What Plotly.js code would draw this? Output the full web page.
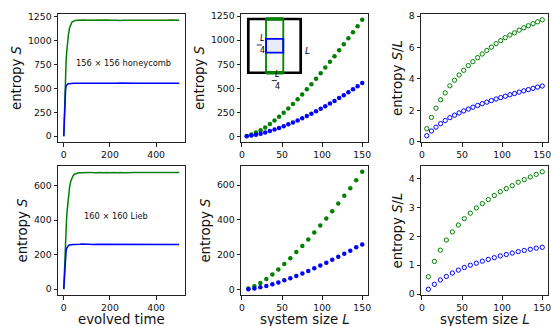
<!DOCTYPE html>
<html>
<head>
<meta charset="utf-8">
<script src="https://cdn.plot.ly/plotly-3.0.1.min.js"></script>
<style>html,body{margin:0;padding:0;background:#fff}#chart{width:551px;height:326px}</style>
</head>
<body>
<div id="chart"></div>
<script>
// ---- evolved time series (shared times) ----
var timeSteps = [0,2,4,6,8,10,12,15,20,25,30,35,40,45,50,
  60,70,80,90,100,110,120,130,140,150,160,170,180,190,200,
  210,220,230,240,250,260,270,280,290,300,310,320,330,340,350,
  360,370,380,390,400,410,420,430,440,450,460,470,480,490,500];

var honeyGreenT = [0,200,380,540,670,780,860,950,1060,1130,1170,1190,1200,1207,1210,
  1211,1213,1212,1214,1211, 1212,1213,1210,1212,1214, 1213,1211,1212,1213,1212,
  1214,1211,1212,1210,1213, 1212,1211,1213,1214,1212, 1211,1212,1213,1210,1212,
  1213,1211,1212,1214,1212, 1211,1213,1212,1210,1212, 1213,1211,1212,1213,1211];
var honeyBlueT = [0,180,330,430,490,520,532,541,547,550,552,553,553,554,553,
  554,553,555,554,553, 554,555,553,554,554, 553,554,555,554,553,
  554,553,554,555,554, 553,554,554,553,555, 554,553,554,554,555,
  553,554,553,555,554, 554,553,554,555,553, 554,554,553,555,554];
var liebGreenT = [0,90,170,240,300,360,405,460,540,590,625,645,657,665,669,
  673,675,676,677,675, 676,677,675,676,678, 676,675,677,676,675,
  677,676,675,677,676, 675,676,677,676,675, 677,676,676,675,677,
  676,675,677,676,676, 675,677,676,675,677, 676,676,675,677,676];
var liebBlueT = [0,60,115,160,195,220,235,246,253,256,258,258,259,259,260,
  259,260,261,260,259, 260,261,259,260,260, 261,260,259,260,261,
  260,259,260,261,260, 259,260,261,260,259, 260,260,261,259,260,
  261,260,259,260,261, 260,259,260,261,260, 259,261,260,260,259];

// ---- system-size scans ----
var honeyL = [6,11.8,17.5,23.3,29,34.8,40.6,46.3,52.1,57.8,63.6,69.4,75.1,80.9,86.6,92.4,98.2,103.9,109.7,115.4,121.2,127,132.7,138.5,144.2,150];
var honeyGreenS = [5,19,39,64,93,128,165,204,246,291,337,386,436,489,543,600,657,716,775,833,896,958,1020,1083,1146,1212];
var honeyBlueS  = [2,8,17,28,41,55,71,88,106,125,145,166,189,212,236,261,287,313,341,368,398,428,458,490,522,554];
var honeyGreenSL = [0.83,1.55,2.14,2.67,3.11,3.56,3.92,4.25,4.55,4.85,5.10,5.36,5.59,5.82,6.03,6.25,6.44,6.63,6.80,6.94,7.11,7.26,7.39,7.52,7.64,7.77];
var honeyBlueSL  = [0.38,0.68,0.93,1.15,1.35,1.53,1.69,1.83,1.96,2.08,2.20,2.31,2.42,2.52,2.62,2.72,2.81,2.90,2.99,3.07,3.16,3.24,3.32,3.40,3.48,3.55];

var liebL = [8,15.5,22.9,30.4,37.9,45.4,52.8,60.3,67.8,75.3,82.7,90.2,97.7,105.2,112.6,120.1,127.6,135.1,142.5,150];
var liebGreenS = [5,18,37,60,86,115,146,179,215,250,288,327,368,409,450,495,539,583,629,677];
var liebBlueS  = [1,5,12,20,29,40,52,64,77,91,106,121,137,153,170,188,205,223,242,259];
var liebGreenSL = [0.60,1.13,1.52,1.87,2.15,2.39,2.61,2.80,2.98,3.13,3.27,3.41,3.54,3.65,3.75,3.87,3.96,4.05,4.14,4.23];
var liebBlueSL  = [0.17,0.34,0.49,0.61,0.73,0.83,0.92,1.00,1.07,1.14,1.20,1.26,1.32,1.37,1.42,1.47,1.51,1.55,1.59,1.62];

var GREEN = '#008000', BLUE = '#0000ff';
var FONT = 'DejaVu Sans, sans-serif';

function line(x, y, c, ax) {
  return {x: x, y: y, type: 'scatter', mode: 'lines', line: {color: c, width: 1.5},
    xaxis: 'x' + ax, yaxis: 'y' + ax, hoverinfo: 'skip', showlegend: false};
}
function dots(x, y, c, ax) {
  return {x: x, y: y, type: 'scatter', mode: 'markers', marker: {color: c, size: 4.5, line: {width: 0}},
    xaxis: 'x' + ax, yaxis: 'y' + ax, showlegend: false};
}
function rings(x, y, c, ax) {
  return {x: x, y: y, type: 'scatter', mode: 'markers',
    marker: {symbol: 'circle-open', color: c, size: 4.3, line: {width: 1, color: c}},
    xaxis: 'x' + ax, yaxis: 'y' + ax, showlegend: false};
}

var traces = [
  line(timeSteps, honeyGreenT, GREEN, ''), line(timeSteps, honeyBlueT, BLUE, ''),
  dots(honeyL, honeyGreenS, GREEN, '2'), dots(honeyL, honeyBlueS, BLUE, '2'),
  rings(honeyL, honeyGreenSL, GREEN, '3'), rings(honeyL, honeyBlueSL, BLUE, '3'),
  line(timeSteps, liebGreenT, GREEN, '4'), line(timeSteps, liebBlueT, BLUE, '4'),
  dots(liebL, liebGreenS, GREEN, '5'), dots(liebL, liebBlueS, BLUE, '5'),
  rings(liebL, liebGreenSL, GREEN, '6'), rings(liebL, liebBlueSL, BLUE, '6')
];

// plot area: l=58, r=1, t=14, b=31  -> 492 x 281
var PW = 492, PH = 281;
function dx(a, b) { return [a / PW, b / PW]; }
function dy(a, b) { return [a / PH, b / PH]; }

function axis(d, range, tickvals, title, standoff, anchor) {
  var o = {domain: d, range: range, tickvals: tickvals, ticktext: tickvals.map(String),
    showgrid: false, zeroline: false, showline: true, mirror: true, linecolor: '#222', linewidth: 1,
    ticks: 'outside', ticklen: 3.5, tickwidth: 1, tickcolor: '#222', ticklabeloverflow: 'allow',
    tickfont: {family: FONT, size: 9.3, color: '#111'}, anchor: anchor, fixedrange: true};
  if (title) o.title = {text: title, font: {family: FONT, size: 13.3, color: '#111'}, standoff: standoff};
  return o;
}

var colL = dx(0, 127), colM = dx(183, 310), colR = dx(363, 490);
var rowT = dy(153, 281), rowB = dy(0, 129);
var xr = [-1.2, 157.2];

function xTitle(ax, text) {
  return {xref: ax + ' domain', yref: 'paper', x: 0.5, y: -24.3 / PH, yanchor: 'middle', text: text,
    showarrow: false, font: {family: FONT, size: 13.3, color: '#111'}, borderpad: 0};
}

var layout = {
  width: 551, height: 326, margin: {l: 58, r: 1, t: 14, b: 31},
  paper_bgcolor: '#fff', plot_bgcolor: '#fff', showlegend: false,
  xaxis:  axis(colL, [-25, 525], [0, 200, 400], null, 0, 'y'),
  yaxis:  axis(rowT, [-61, 1277], [0, 250, 500, 750, 1000, 1250], 'entropy <i>S</i>', 2.5, 'x'),
  xaxis2: axis(colM, xr, [0, 50, 100, 150], null, 0, 'y2'),
  yaxis2: axis(rowT, [-58.5, 1272.5], [0, 250, 500, 750, 1000, 1250], 'entropy <i>S</i>', 2.5, 'x2'),
  xaxis3: axis(colR, xr, [0, 50, 100, 150], null, 0, 'y3'),
  yaxis3: axis(rowT, [-0.02, 8.14], [0, 2, 4, 6, 8], 'entropy <i>S</i>/<i>L</i>', 2.5, 'x3'),
  xaxis4: axis(colL, [-25, 525], [0, 200, 400], null, 0, 'y4'),
  yaxis4: axis(rowB, [-34, 714], [0, 200, 400, 600], 'entropy <i>S</i>', 2.5, 'x4'),
  xaxis5: axis(colM, xr, [0, 50, 100, 150], null, 0, 'y5'),
  yaxis5: axis(rowB, [-32.4, 710.8], [0, 200, 400, 600], 'entropy <i>S</i>', 2.5, 'x5'),
  xaxis6: axis(colR, xr, [0, 50, 100, 150], null, 0, 'y6'),
  yaxis6: axis(rowB, [-0.03, 4.43], [0, 1, 2, 3, 4], 'entropy <i>S</i>/<i>L</i>', 2.5, 'x6'),
  shapes: [
    {type: 'rect', xref: 'x2 domain', yref: 'y2 domain', x0: 0.0575, x1: 0.47, y0: 0.541, y1: 0.961,
      line: {color: '#000', width: 2.7}, fillcolor: 'rgba(255,255,255,1)', layer: 'above'},
    {type: 'rect', xref: 'x2 domain', yref: 'y2 domain', x0: 0.197, x1: 0.333, y0: 0.541, y1: 0.961,
      line: {color: GREEN, width: 1.8}, fillcolor: 'rgba(0,128,0,0.035)', layer: 'above'},
    {type: 'line', xref: 'x2 domain', yref: 'y2 domain', x0: 0.197, x1: 0.333, y0: 0.541, y1: 0.541,
      line: {color: GREEN, width: 3.5}, layer: 'above'},
    {type: 'line', xref: 'x2 domain', yref: 'y2 domain', x0: 0.197, x1: 0.333, y0: 0.961, y1: 0.961,
      line: {color: GREEN, width: 3.5}, layer: 'above'},
    {type: 'rect', xref: 'x2 domain', yref: 'y2 domain', x0: 0.197, x1: 0.333, y0: 0.698, y1: 0.805,
      line: {color: BLUE, width: 1.8}, fillcolor: 'rgba(0,0,255,0.06)', layer: 'above'},
    {type: 'line', xref: 'x2 domain', yref: 'y2 domain', x0: 0.124, x1: 0.164, y0: 0.758, y1: 0.758,
      line: {color: '#000', width: 0.8}, layer: 'above'},
    {type: 'line', xref: 'x2 domain', yref: 'y2 domain', x0: 0.242, x1: 0.282, y0: 0.48, y1: 0.48,
      line: {color: '#000', width: 0.8}, layer: 'above'}
  ],
  annotations: [
    xTitle('x4', 'evolved time'),
    xTitle('x5', 'system size <i>L</i>'),
    xTitle('x6', 'system size <i>L</i>'),
    {xref: 'x domain', yref: 'y domain', x: 0.512, y: 0.617, text: '156 × 156 honeycomb', showarrow: false,
      font: {family: FONT, size: 8.3, color: '#111'}},
    {xref: 'x4 domain', yref: 'y4 domain', x: 0.457, y: 0.612, text: '160 × 160 Lieb', showarrow: false,
      font: {family: FONT, size: 8.3, color: '#111'}},
    {xref: 'x2 domain', yref: 'y2 domain', x: 0.144, y: 0.758, yanchor: 'bottom', yshift: 0.5, text: '<i>L</i>', showarrow: false,
      font: {family: FONT, size: 8, color: '#000'}, borderpad: 0},
    {xref: 'x2 domain', yref: 'y2 domain', x: 0.144, y: 0.758, yanchor: 'top', yshift: -0.5, text: '4', showarrow: false,
      font: {family: FONT, size: 8, color: '#000'}, borderpad: 0},
    {xref: 'x2 domain', yref: 'y2 domain', x: 0.52, y: 0.763, text: '<i>L</i>', showarrow: false,
      font: {family: FONT, size: 9, color: '#000'}},
    {xref: 'x2 domain', yref: 'y2 domain', x: 0.262, y: 0.48, yanchor: 'bottom', yshift: 0.5, text: '<i>L</i>', showarrow: false,
      font: {family: FONT, size: 8, color: '#000'}, borderpad: 0},
    {xref: 'x2 domain', yref: 'y2 domain', x: 0.262, y: 0.48, yanchor: 'top', yshift: -0.5, text: '4', showarrow: false,
      font: {family: FONT, size: 8, color: '#000'}, borderpad: 0}
  ]
};

Plotly.newPlot('chart', traces, layout, {staticPlot: true, displayModeBar: false});
</script>
</body>
</html>
